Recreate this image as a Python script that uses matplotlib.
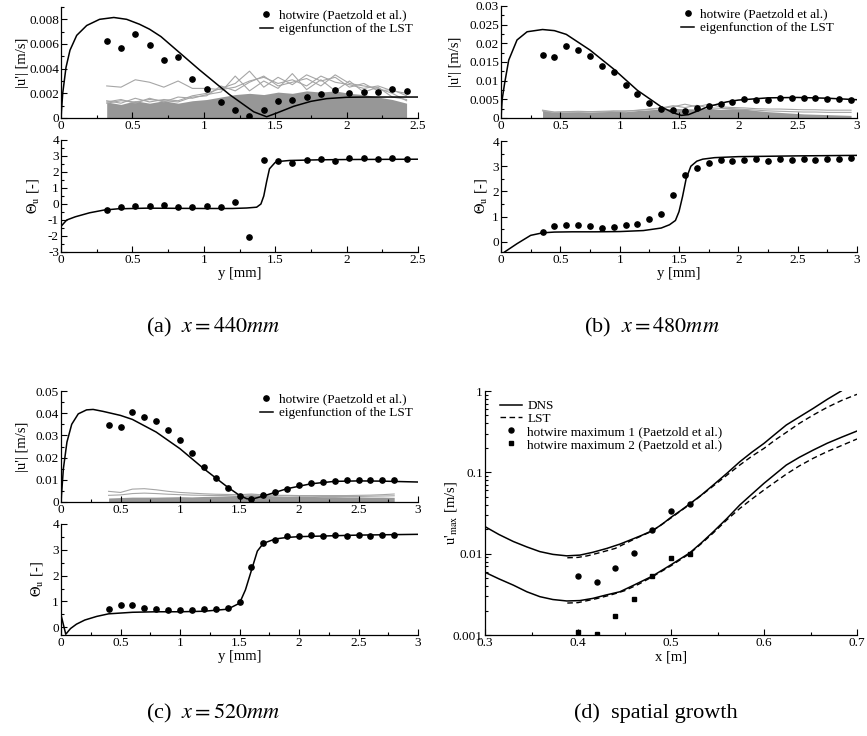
import matplotlib
matplotlib.use('Agg')
import matplotlib.pyplot as plt
from matplotlib.ticker import MultipleLocator, FuncFormatter, LogLocator, NullFormatter
from matplotlib.lines import Line2D

plt.rcParams['font.family'] = ['Liberation Serif', 'DejaVu Serif']
plt.rcParams['mathtext.fontset'] = 'stix'

# ---------------- data ----------------
# panel (a) x = 440 mm
a_x = [0.32, 0.42, 0.52, 0.62, 0.72, 0.82, 0.92, 1.02, 1.12, 1.22, 1.32, 1.42, 1.52, 1.62, 1.72, 1.82, 1.92, 2.02, 2.12, 2.22, 2.32, 2.42]
a_hw_amp = [0.00624, 0.00568, 0.00678, 0.00595, 0.0047, 0.00495, 0.00316, 0.00235, 0.00132, 0.00062, 0.00016, 0.00068, 0.00138, 0.00149, 0.00173, 0.00195, 0.00224, 0.00205, 0.00214, 0.00211, 0.00238, 0.00222]
a_hw_phase = [-0.375, -0.17, -0.125, -0.125, -0.06, -0.19, -0.19, -0.15, -0.21, 0.15, -2.04, 2.77, 2.69, 2.58, 2.77, 2.83, 2.71, 2.85, 2.85, 2.79, 2.9, 2.81]
a_gray_fill = [0.0013, 0.0011, 0.0014, 0.0012, 0.0014, 0.0012, 0.0014, 0.0015, 0.0017, 0.0019, 0.0020, 0.0019, 0.0021, 0.0020, 0.0022, 0.0021, 0.0022, 0.0020, 0.0019, 0.0017, 0.0015, 0.0012]
a_gray_1 = [0.0026, 0.0025, 0.0031, 0.0029, 0.0025, 0.0030, 0.0024, 0.0024, 0.0023, 0.0025, 0.0030, 0.0033, 0.0028, 0.0031, 0.0026, 0.0034, 0.0029, 0.0027, 0.0024, 0.0026, 0.0022, 0.0020]
a_gray_2 = [0.0014, 0.0012, 0.0016, 0.0013, 0.0015, 0.0014, 0.0018, 0.0020, 0.0024, 0.0028, 0.0038, 0.0025, 0.0033, 0.0027, 0.0035, 0.0030, 0.0033, 0.0025, 0.0028, 0.0022, 0.0023, 0.0018]
a_gray_3 = [0.0013, 0.0015, 0.0012, 0.0016, 0.0013, 0.0017, 0.0016, 0.0019, 0.0021, 0.0034, 0.0022, 0.0030, 0.0024, 0.0036, 0.0023, 0.0031, 0.0022, 0.0030, 0.0021, 0.0025, 0.0017, 0.0015]
a_gray_4 = [0.0012, 0.0014, 0.0013, 0.0015, 0.0014, 0.0013, 0.0017, 0.0018, 0.0026, 0.0022, 0.0029, 0.0034, 0.0026, 0.0029, 0.0032, 0.0026, 0.0035, 0.0028, 0.0026, 0.0024, 0.0020, 0.0014]
a_lst_x = [0, 0.012, 0.035, 0.063, 0.11, 0.18, 0.27, 0.37, 0.46, 0.55, 0.62, 0.70, 0.82, 0.97, 1.18, 1.35, 1.44, 1.51, 1.63, 1.75, 1.86, 2.0, 2.15, 2.5]
a_lst_amp = [0, 0.0020, 0.0041, 0.0055, 0.0067, 0.0075, 0.0080, 0.00815, 0.0080, 0.0076, 0.0072, 0.0066, 0.0054, 0.0039, 0.0019, 0.0005, 0.0001, 0.0004, 0.00095, 0.00135, 0.00157, 0.00168, 0.0017, 0.0017]
a_ph_x = [0, 0.04, 0.1, 0.2, 0.3, 0.4, 0.6, 0.8, 1.0, 1.2, 1.3, 1.37, 1.40, 1.42, 1.44, 1.46, 1.50, 1.55, 1.6, 1.8, 2.0, 2.5]
a_ph = [-1.4, -1.0, -0.8, -0.55, -0.38, -0.3, -0.26, -0.27, -0.28, -0.28, -0.25, -0.2, 0.0, 0.5, 1.4, 2.2, 2.6, 2.68, 2.72, 2.76, 2.78, 2.8]

# panel (b) x = 480 mm
b_x = [0.35, 0.45, 0.55, 0.65, 0.75, 0.85, 0.95, 1.05, 1.15, 1.25, 1.35, 1.45, 1.55, 1.65, 1.75, 1.85, 1.95, 2.05, 2.15, 2.25, 2.35, 2.45, 2.55, 2.65, 2.75, 2.85, 2.95]
b_hw_amp = [0.0170, 0.0163, 0.0193, 0.0183, 0.0166, 0.0140, 0.0122, 0.0088, 0.0065, 0.0041, 0.0025, 0.0021, 0.0018, 0.0028, 0.0033, 0.0037, 0.0043, 0.0051, 0.0049, 0.0048, 0.0053, 0.0054, 0.0053, 0.0054, 0.0051, 0.0050, 0.0049]
b_hw_phase = [0.38, 0.63, 0.68, 0.67, 0.62, 0.57, 0.61, 0.67, 0.72, 0.91, 1.09, 1.84, 2.67, 2.93, 3.12, 3.25, 3.22, 3.26, 3.29, 3.21, 3.30, 3.26, 3.28, 3.26, 3.28, 3.30, 3.32]
b_gray_fill = [0.0021, 0.0015, 0.0016, 0.0017, 0.0016, 0.0017, 0.0018, 0.0017, 0.0020, 0.0022, 0.0024, 0.0026, 0.0025, 0.0024, 0.0026, 0.0023, 0.0025, 0.0024, 0.0020, 0.0017, 0.0015, 0.0013, 0.0011, 0.0010, 0.0009, 0.0008, 0.0007]
b_gray_1 = [0.0021, 0.0016, 0.0017, 0.0018, 0.0017, 0.0018, 0.0019, 0.0018, 0.0021, 0.0023, 0.0026, 0.0030, 0.0037, 0.0030, 0.0037, 0.0030, 0.0028, 0.0027, 0.0025, 0.0024, 0.0024, 0.0023, 0.0022, 0.0022, 0.0021, 0.0021, 0.0021]
b_gray_2 = [0.0019, 0.0015, 0.0016, 0.0016, 0.0017, 0.0016, 0.0018, 0.0019, 0.0020, 0.0024, 0.0027, 0.0033, 0.0028, 0.0034, 0.0027, 0.0026, 0.0025, 0.0023, 0.0021, 0.0019, 0.0018, 0.0017, 0.0016, 0.0016, 0.0015, 0.0015, 0.0015]
b_lst_x = [0, 0.01, 0.03, 0.065, 0.135, 0.22, 0.35, 0.45, 0.55, 0.75, 0.95, 1.15, 1.35, 1.45, 1.52, 1.58, 1.65, 1.75, 1.9, 2.0, 2.25, 2.5, 2.75, 3.0]
b_lst_amp = [0, 0.005, 0.0092, 0.0155, 0.0209, 0.0231, 0.0237, 0.0234, 0.0224, 0.0182, 0.0131, 0.0074, 0.0030, 0.0014, 0.0007, 0.0009, 0.0018, 0.0031, 0.0043, 0.0048, 0.0054, 0.0055, 0.0053, 0.0049]
b_ph_x = [0.03, 0.135, 0.25, 0.35, 0.45, 0.6, 0.8, 1.0, 1.2, 1.35, 1.42, 1.47, 1.5, 1.53, 1.56, 1.6, 1.65, 1.7, 1.8, 2.0, 2.5, 3.0]
b_ph = [-0.4, -0.07, 0.26, 0.36, 0.39, 0.40, 0.40, 0.41, 0.45, 0.55, 0.68, 0.85, 1.2, 1.8, 2.5, 3.0, 3.2, 3.28, 3.34, 3.38, 3.41, 3.43]

# panel (c) x = 520 mm
c_x = [0.4, 0.5, 0.6, 0.7, 0.8, 0.9, 1.0, 1.1, 1.2, 1.3, 1.4, 1.5, 1.6, 1.7, 1.8, 1.9, 2.0, 2.1, 2.2, 2.3, 2.4, 2.5, 2.6, 2.7, 2.8]
c_hw_amp = [0.0345, 0.0336, 0.0406, 0.0385, 0.0363, 0.0325, 0.028, 0.022, 0.0157, 0.0108, 0.0064, 0.0027, 0.0013, 0.003, 0.0045, 0.006, 0.0075, 0.0085, 0.0091, 0.0094, 0.0097, 0.0097, 0.0097, 0.0097, 0.0097]
c_hw_phase = [0.72, 0.85, 0.85, 0.76, 0.72, 0.65, 0.65, 0.65, 0.70, 0.72, 0.76, 0.98, 2.35, 3.28, 3.37, 3.55, 3.54, 3.59, 3.55, 3.56, 3.54, 3.57, 3.54, 3.57, 3.59]
c_gray_fill = [0.0018, 0.0020, 0.0022, 0.0022, 0.0022, 0.0023, 0.0024, 0.0023, 0.0025, 0.0026, 0.0028, 0.0030, 0.0034, 0.0030, 0.0028, 0.0026, 0.0025, 0.0025, 0.0024, 0.0024, 0.0023, 0.0023, 0.0022, 0.0022, 0.0021]
c_gray_1 = [0.0048, 0.0043, 0.0058, 0.0060, 0.0055, 0.0048, 0.0043, 0.0040, 0.0037, 0.0035, 0.0034, 0.0033, 0.0032, 0.0031, 0.0030, 0.0030, 0.0029, 0.0029, 0.0029, 0.0029, 0.0029, 0.0030, 0.0031, 0.0033, 0.0036]
c_gray_2 = [0.0030, 0.0032, 0.0038, 0.0040, 0.0038, 0.0035, 0.0033, 0.0031, 0.0030, 0.0029, 0.0030, 0.0033, 0.0036, 0.0032, 0.0030, 0.0028, 0.0026, 0.0026, 0.0025, 0.0025, 0.0025, 0.0025, 0.0026, 0.0027, 0.0028]
c_lst_x = [0, 0.02, 0.05, 0.09, 0.145, 0.215, 0.27, 0.355, 0.5, 0.6, 0.8, 1.0, 1.2, 1.4, 1.5, 1.56, 1.6, 1.7, 1.9, 2.1, 2.3, 2.5, 2.7, 3.0]
c_lst_amp = [0, 0.015, 0.027, 0.035, 0.0397, 0.0415, 0.0417, 0.0408, 0.039, 0.0372, 0.0315, 0.024, 0.015, 0.0067, 0.003, 0.0015, 0.0012, 0.0027, 0.006, 0.0082, 0.0093, 0.0095, 0.0094, 0.009]
c_ph_x = [0, 0.04, 0.08, 0.13, 0.2, 0.3, 0.4, 0.6, 0.8, 1.0, 1.2, 1.4, 1.5, 1.55, 1.6, 1.65, 1.7, 1.8, 1.9, 2.0, 2.5, 3.0]
c_ph = [0.48, -0.27, -0.05, 0.12, 0.28, 0.42, 0.52, 0.58, 0.60, 0.60, 0.62, 0.70, 0.93, 1.45, 2.2, 2.95, 3.25, 3.42, 3.48, 3.51, 3.57, 3.6]

# panel (d) spatial growth
d_dns1_x = [0.3, 0.315, 0.3305, 0.345, 0.359, 0.373, 0.388, 0.402, 0.416, 0.431, 0.445, 0.456, 0.468, 0.48, 0.49, 0.50, 0.51, 0.52, 0.533, 0.5455, 0.56, 0.574, 0.587, 0.6, 0.612, 0.624, 0.638, 0.653, 0.668, 0.683]
d_dns1 = [0.0215, 0.0172, 0.0141, 0.0121, 0.0106, 0.0098, 0.0094, 0.0096, 0.0104, 0.0116, 0.0131, 0.0147, 0.0167, 0.0192, 0.0228, 0.028, 0.0336, 0.0408, 0.053, 0.0699, 0.097, 0.135, 0.177, 0.227, 0.295, 0.382, 0.48, 0.612, 0.79, 1.0]
d_lst1_x = [0.3885, 0.40, 0.41, 0.425, 0.44, 0.46, 0.48, 0.50, 0.52, 0.5455, 0.56, 0.574, 0.587, 0.6, 0.612, 0.624, 0.638, 0.653, 0.668, 0.684, 0.7]
d_lst1 = [0.0089, 0.0090, 0.0094, 0.0104, 0.0116, 0.0150, 0.0190, 0.0275, 0.0402, 0.068, 0.092, 0.123, 0.158, 0.197, 0.25, 0.31, 0.40, 0.507, 0.63, 0.77, 0.91]
d_dns2_x = [0.3, 0.315, 0.3305, 0.345, 0.359, 0.373, 0.388, 0.402, 0.416, 0.43, 0.445, 0.46, 0.48, 0.50, 0.52, 0.533, 0.5455, 0.56, 0.574, 0.587, 0.6, 0.612, 0.624, 0.638, 0.653, 0.668, 0.684, 0.7]
d_dns2 = [0.0059, 0.0049, 0.0041, 0.0034, 0.00296, 0.00273, 0.00262, 0.00265, 0.00282, 0.0031, 0.0034, 0.0041, 0.0053, 0.0073, 0.0102, 0.0137, 0.0186, 0.027, 0.0397, 0.054, 0.0733, 0.095, 0.123, 0.153, 0.188, 0.228, 0.272, 0.322]
d_lst2_x = [0.3885, 0.40, 0.42, 0.435, 0.45, 0.465, 0.48, 0.50, 0.52, 0.533, 0.5455, 0.56, 0.574, 0.587, 0.6, 0.612, 0.624, 0.638, 0.653, 0.668, 0.684, 0.7]
d_lst2 = [0.00247, 0.0025, 0.0028, 0.0031, 0.0035, 0.0042, 0.0052, 0.0071, 0.0100, 0.0134, 0.018, 0.026, 0.036, 0.047, 0.0607, 0.076, 0.095, 0.12, 0.149, 0.18, 0.215, 0.257]
d_hw_x = [0.40, 0.42, 0.44, 0.46, 0.48, 0.50, 0.52]
d_hw1 = [0.0053, 0.00453, 0.00673, 0.0103, 0.0194, 0.0338, 0.0408]
d_hw2 = [0.0011, 0.00102, 0.00173, 0.00277, 0.0053, 0.00893, 0.0099]

captions = ['(a)  $x = 440mm$', '(b)  $x = 480mm$', '(c)  $x = 520mm$', '(d)  spatial growth']

# ---------------- figure ----------------
W, H = 867, 736
fig = plt.figure(figsize=(W / 100, H / 100), dpi=100)

def add_ax(x0, y0, x1, y1):
    return fig.add_axes([x0 / W, 1 - y1 / H, (x1 - x0) / W, (y1 - y0) / H])

def gfmt(v, p):
    s = '%g' % round(v, 6)
    return '0' if s == '-0' else s

TS = 9.5
def style(ax, xmaj, ymaj, log=False):
    for s in ['top', 'right']:
        ax.spines[s].set_visible(False)
    for s in ['left', 'bottom']:
        ax.spines[s].set_linewidth(0.9)
    ax.tick_params(which='both', direction='in', top=False, right=False,
                   labelsize=TS, pad=1.5, width=0.8)
    ax.tick_params(which='major', length=4)
    ax.tick_params(which='minor', length=2.5)
    ax.xaxis.set_major_locator(MultipleLocator(xmaj))
    ax.xaxis.set_minor_locator(MultipleLocator(xmaj / 2))
    ax.xaxis.set_major_formatter(FuncFormatter(gfmt))
    if not log:
        ax.yaxis.set_major_locator(MultipleLocator(ymaj))
        ax.yaxis.set_minor_locator(MultipleLocator(ymaj / 2))
        ax.yaxis.set_major_formatter(FuncFormatter(gfmt))

GF = '#979797'
GL = '#a6a6a6'
LS = 9.5

def amp_panel(ax, x, hw, fill, glines, lx, ly, xmax, ymax, ymaj, ylx):
    ax.fill_between(x, 0, fill, color=GF, lw=0, zorder=1)
    for g in glines:
        ax.plot(x, g, color=GL, lw=0.8, zorder=1.5)
    ax.plot(lx, ly, color='black', lw=1.1, zorder=3, label='eigenfunction of the LST')
    ax.plot(x, hw, 'o', color='black', ms=3.8, zorder=4, label='hotwire (Paetzold et al.)')
    ax.set_xlim(0, xmax)
    ax.set_ylim(0, ymax)
    style(ax, 0.5, ymaj)
    ax.set_ylabel("|u'| [m/s]", fontsize=10.5)
    ax.yaxis.set_label_coords(ylx, 0.5)
    h = [Line2D([], [], marker='o', ls='none', color='black', ms=3.8),
         Line2D([], [], color='black', lw=1.1)]
    ax.legend(h, ['hotwire (Paetzold et al.)', 'eigenfunction of the LST'],
              loc='upper right', bbox_to_anchor=(1.0, 1.03), frameon=False,
              fontsize=LS, handlelength=1.0, handletextpad=0.45,
              labelspacing=0.15, borderaxespad=0)

def phase_panel(ax, x, hw, lx, ly, xmax, ylo, ylx):
    ax.plot(lx, ly, color='black', lw=1.1, zorder=3)
    ax.plot(x, hw, 'o', color='black', ms=3.8, zorder=4)
    ax.set_xlim(0, xmax)
    ax.set_ylim(ylo, 4)
    style(ax, 0.5, 1)
    ax.set_ylabel(r'$\Theta_\mathrm{u}$ [-]', fontsize=10.5)
    ax.yaxis.set_label_coords(ylx, 0.5)
    ax.set_xlabel('y [mm]', fontsize=10.5, labelpad=1)

# (a)
ax = add_ax(61, 7, 418, 118)
amp_panel(ax, a_x, a_hw_amp, a_gray_fill, [a_gray_1, a_gray_2, a_gray_3, a_gray_4],
          a_lst_x, a_lst_amp, 2.5, 0.009, 0.002, -0.09)
ax = add_ax(61, 140, 418, 252)
phase_panel(ax, a_x, a_hw_phase, a_ph_x, a_ph, 2.5, -3, -0.055)

# (b)
ax = add_ax(501, 6, 857, 118)
amp_panel(ax, b_x, b_hw_amp, b_gray_fill, [b_gray_1, b_gray_2],
          b_lst_x, b_lst_amp, 3, 0.03, 0.005, -0.11)
ax.get_legend().set_bbox_to_anchor((0.95, 1.03), transform=ax.transAxes)
ax = add_ax(501, 141, 857, 252)
phase_panel(ax, b_x, b_hw_phase, b_ph_x, b_ph, 3, -0.4, -0.035)

# (c)
ax = add_ax(61, 391, 418, 502)
amp_panel(ax, c_x, c_hw_amp, c_gray_fill, [c_gray_1, c_gray_2],
          c_lst_x, c_lst_amp, 3, 0.05, 0.01, -0.09)
ax = add_ax(61, 524, 418, 635)
phase_panel(ax, c_x, c_hw_phase, c_ph_x, c_ph, 3, -0.3, -0.045)

# (d)
ax = add_ax(485, 391, 857, 635)
ax.set_yscale('log')
ax.plot(d_dns1_x, d_dns1, color='black', lw=1.1, label='DNS')
ax.plot(d_lst1_x, d_lst1, color='black', lw=1.0, ls=(0, (4, 2.5)), label='LST')
ax.plot(d_dns2_x, d_dns2, color='black', lw=1.1)
ax.plot(d_lst2_x, d_lst2, color='black', lw=1.0, ls=(0, (4, 2.5)))
ax.plot(d_hw_x, d_hw1, 'o', color='black', ms=3.6, label='hotwire maximum 1 (Paetzold et al.)')
ax.plot(d_hw_x, d_hw2, 's', color='black', ms=3.2, label='hotwire maximum 2 (Paetzold et al.)')
ax.set_xlim(0.3, 0.7)
ax.set_ylim(0.001, 1)
style(ax, 0.1, None, log=True)
ax.yaxis.set_major_locator(LogLocator(base=10))
ax.yaxis.set_minor_locator(LogLocator(base=10, subs=range(2, 10)))
ax.yaxis.set_major_formatter(FuncFormatter(gfmt))
ax.yaxis.set_minor_formatter(NullFormatter())
ax.set_xlabel('x [m]', fontsize=10.5, labelpad=1)
ax.set_ylabel(r"u'$_{\mathrm{max}}$ [m/s]", fontsize=10.5)
ax.yaxis.set_label_coords(-0.07, 0.5)
ax.legend(loc='upper left', bbox_to_anchor=(0.025, 0.985), frameon=False,
          fontsize=LS, handlelength=1.7, handletextpad=0.4, labelspacing=0.05,
          borderaxespad=0)

# captions
for (cx, cy), t in zip([(213, 327), (652, 327), (213, 713), (656, 713)], captions):
    fig.text(cx / W, 1 - cy / H, t, ha='center', va='center', fontsize=16)

fig.savefig('out.png', dpi=100)
